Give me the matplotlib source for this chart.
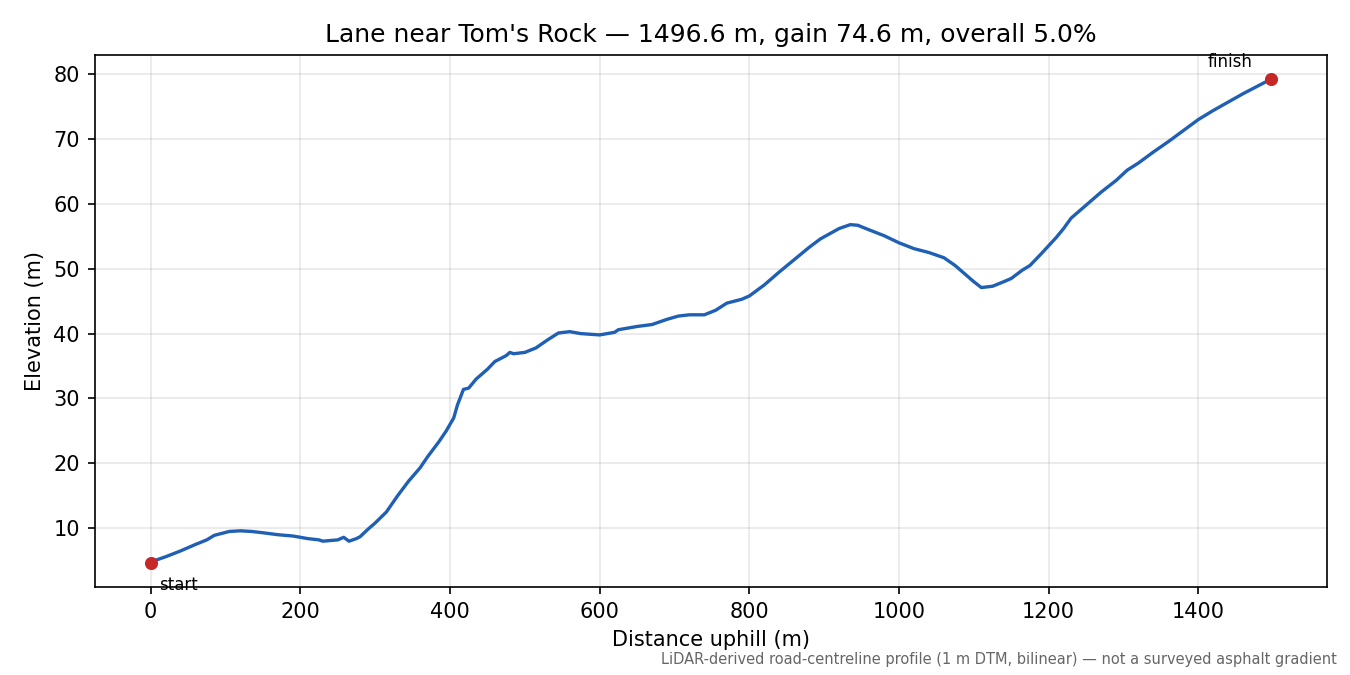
import numpy as np
import matplotlib
matplotlib.use('Agg')
import matplotlib.pyplot as plt

# --- profile ---
dist = [0, 10, 20, 40, 60, 75, 85, 95, 105, 120, 135, 150, 170, 190, 210, 225, 230, 250, 258, 265,
        275, 280, 290, 300, 315, 330, 345, 360, 370, 385, 395, 405, 410, 415, 418, 425, 435, 450, 460,
        475, 480, 485, 500, 515, 530, 545, 560, 575, 600, 620, 625, 650, 670, 690, 705, 720, 740, 755,
        770, 790, 800, 820, 840, 860, 880, 895, 920, 935, 945, 960, 980, 1000, 1020, 1040, 1060, 1075,
        1090, 1100, 1110, 1125, 1140, 1150, 1165, 1175, 1190, 1210, 1220, 1230, 1250, 1270, 1290, 1305,
        1320, 1340, 1360, 1380, 1400, 1420, 1440, 1460, 1480, 1496.6]
elev = [4.7, 5.2, 5.6, 6.5, 7.5, 8.2, 8.9, 9.2, 9.5, 9.6, 9.5, 9.3, 9.0, 8.8, 8.4, 8.2, 8.0, 8.2, 8.6, 8.0,
        8.4, 8.7, 9.8, 10.8, 12.5, 15.0, 17.3, 19.3, 21.0, 23.3, 25.0, 27.0, 29.0, 30.5, 31.4, 31.6, 33.0, 34.5, 35.7,
        36.6, 37.1, 36.9, 37.1, 37.8, 39.0, 40.1, 40.3, 40.0, 39.8, 40.2, 40.6, 41.1, 41.4, 42.2, 42.7, 42.9, 42.9, 43.6,
        44.7, 45.3, 45.8, 47.5, 49.5, 51.4, 53.3, 54.6, 56.2, 56.8, 56.7, 56.0, 55.1, 54.0, 53.1, 52.5, 51.7, 50.5,
        49.0, 48.0, 47.1, 47.3, 48.0, 48.5, 49.8, 50.5, 52.3, 54.8, 56.2, 57.8, 59.8, 61.8, 63.6, 65.2,
        66.3, 68.0, 69.6, 71.3, 73.0, 74.4, 75.7, 77.0, 78.2, 79.2]

title = "Lane near Tom's Rock \u2014 1496.6 m, gain 74.6 m, overall 5.0%"
note = "LiDAR-derived road-centreline profile (1 m DTM, bilinear) \u2014 not a surveyed asphalt gradient"

fig = plt.figure(figsize=(9, 4.5), dpi=150)
ax = fig.add_axes([0.070, 0.130, 0.913, 0.789])

ax.plot(dist, elev, color='#1f5fb4', lw=1.6, zorder=2)
ax.scatter([dist[0], dist[-1]], [elev[0], elev[-1]], color='#c62828', s=28, zorder=3)
ax.annotate('start', (dist[0], elev[0]), xytext=(4, -13), textcoords='offset points', fontsize=8)
ax.annotate('finish', (dist[-1], elev[-1]), xytext=(-30, 6), textcoords='offset points', fontsize=8)

ax.set_xlim(-75, 1572)
ax.set_ylim(0.9, 83)
ax.set_xticks(np.arange(0, 1401, 200))
ax.set_yticks(np.arange(10, 81, 10))
ax.grid(True, alpha=0.3)
ax.set_xlabel('Distance uphill (m)')
ax.set_ylabel('Elevation (m)')
ax.set_title(title, fontsize=12)

fig.text(0.99, 0.012, note, ha='right', va='bottom', fontsize=7.0, color='#666666')
fig.savefig('out.png', dpi=150)
